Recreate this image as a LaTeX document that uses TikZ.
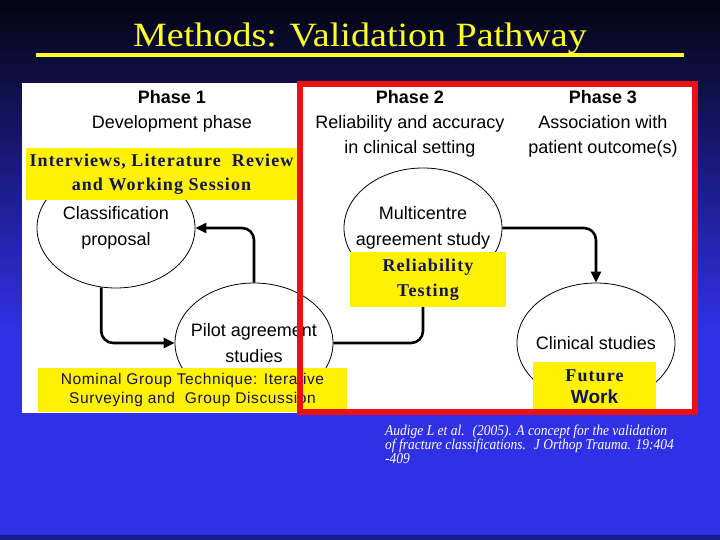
\documentclass[tikz,border=0pt]{standalone}
\usepackage{graphicx}
\usepackage{fontspec}
\setmainfont{Liberation Serif}
\setsansfont{Liberation Sans}
\newfontfamily\notefont[LetterSpace=6]{Liberation Serif}
\newfontfamily\nomfont[LetterSpace=4]{Liberation Sans}
\usetikzlibrary{arrows.meta,shapes.geometric}
\definecolor{bgtop}{RGB}{4,4,18}
\definecolor{bgmid}{RGB}{22,22,105}
\definecolor{bgbot}{RGB}{48,48,230}
\definecolor{bgedge}{RGB}{26,26,140}
\definecolor{navy}{RGB}{20,20,80}
\definecolor{framered}{RGB}{236,16,16}
\definecolor{titleyellow}{RGB}{255,255,40}

\begin{document}
\begin{tikzpicture}[x=1pt,y=-1pt]

\tikzset{
  oval/.style    = {draw, ellipse, line width=0.8pt, minimum width=158pt,
                    minimum height=120pt, inner sep=0pt},
  ovaltxt/.style = {font=\sffamily\fontsize{18}{26}\selectfont, align=center, inner sep=0pt},
  head/.style    = {font=\sffamily\fontsize{18}{25}\selectfont, align=center, inner sep=0pt},
  note/.style    = {fill=yellow, text=navy, align=center, inner sep=0pt},
  flow/.style    = {-{Triangle[length=11pt,width=10pt]}, line width=2.6pt, rounded corners=12pt},
}

\useasboundingbox (0,0) rectangle (720,540);
\shade[top color=bgtop, middle color=bgmid, bottom color=bgbot] (0,0) rectangle (720,330);
\fill[bgbot] (0,329) rectangle (720,540);
\fill[bgedge] (0,535) rectangle (720,540);

\node[text=titleyellow, font=\fontsize{34}{40}\selectfont, inner sep=0pt, anchor=base] (title) at (360,47) {\scalebox{1.12}[1]{Methods: Validation Pathway}};
\draw[titleyellow, line width=3.5pt] (36,55) -- (684,55);

\fill[white] (22,83) rectangle (697,413);

\node[head] (ph1) at (172,111) {\textbf{Phase 1}\\Development phase};
\node[head] (ph2) at (410,124) {\textbf{Phase 2}\\Reliability and accuracy\\in clinical setting};
\node[head] (ph3) at (603,124) {\textbf{Phase 3}\\Association with\\patient outcome(s)};

\node[oval] (class) at (116,228) {};
\node[ovaltxt] (classtxt) at (class) {Classification\\proposal};
\node[oval] (multi) at (423,228) {};
\node[ovaltxt] (multitxt) at (multi) {Multicentre\\agreement study};
\node[oval] (pilot) at (254,343) {};
\node[ovaltxt] (pilottxt) at (pilot) {Pilot agreement\\studies};
\node[oval] (clin) at (596,343) {};
\node[ovaltxt] (clintxt) at (clin) {Clinical studies};

\draw[flow] (pilot.north) |- (class.east);
\draw[flow] (class.256) |- (pilot.west);
\draw[flow] (pilot.east) -| (multi.south);
\draw[flow] (multi.east) -| (clin.north);

\node[note, minimum width=271pt, minimum height=52pt, font=\notefont\bfseries\fontsize{18}{24}\selectfont] (intv) at (161.5,174) {Interviews, Literature~ Review\\and Working Session};
\node[note, minimum width=156pt, minimum height=55pt, font=\notefont\bfseries\fontsize{18}{25}\selectfont] (rel) at (428,279.5) {Reliability\\Testing};
\node[note, minimum width=123pt, minimum height=50pt, font=\notefont\bfseries\fontsize{18}{22}\selectfont] (fut) at (594.5,387) {Future\\{\sffamily\fontsize{19}{22}\selectfont Work}};
\node[note, minimum width=309pt, minimum height=44pt, font=\nomfont\fontsize{15.5}{19.5}\selectfont] (nom) at (192.5,390) {Nominal Group Technique: Iterative\\Surveying and~ Group Discussion};

\draw[framered, line width=5.5pt] (300,84) rectangle (695,412);

\node[text=white, font=\itshape\fontsize{15}{13.5}\selectfont, anchor=north west, inner sep=0pt] (cite) at (385,424.5) {\scalebox{0.9}[1]{\begin{tabular}{@{}l@{}}Audige L et al.~ (2005). A concept for the validation\\of fracture classifications.~ J Orthop Trauma. 19:404\\-409\end{tabular}}};
\end{tikzpicture}
\end{document}
